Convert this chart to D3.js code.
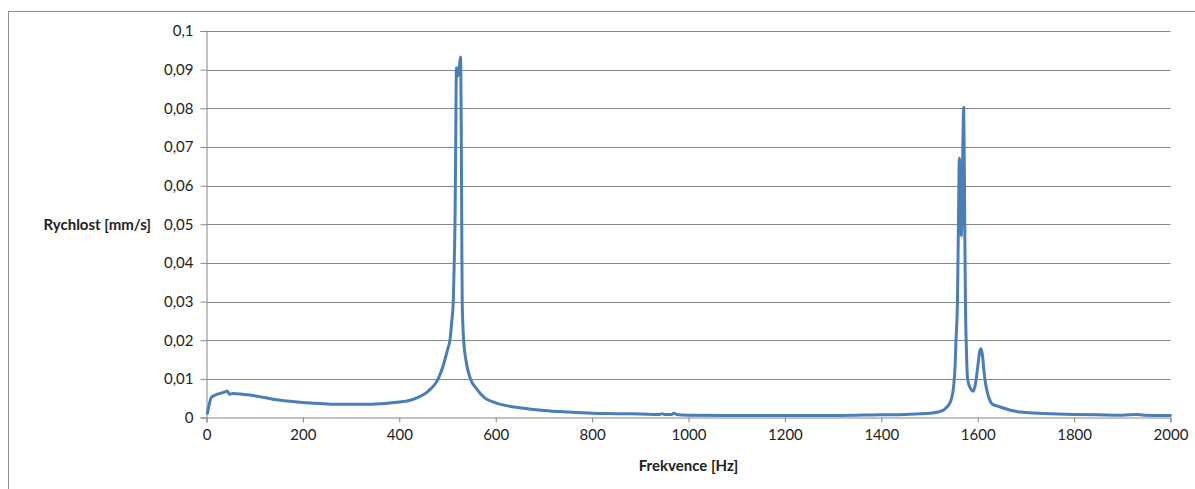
<!DOCTYPE html>
<html>
<head>
<meta charset="utf-8">
<script src="https://cdn.jsdelivr.net/npm/d3@7"></script>
<style>
html,body{margin:0;padding:0;background:#fff;}
svg{display:block;}
text{font-family:Lato,"Open Sans",sans-serif;fill:#222;}
</style>
</head>
<body>
<svg id="chart" width="1195" height="489"></svg>
<script>
const freq = [2,5,10,15,20,30,40,43,48,55,70,90,110,130,150,175,200,225,250,275,300,325,350,375,400,420,440,455,465,475,482,490,500,505,509,512,514,515.5,517,518.5,521,524,527,528.5,529.5,530.5,533.5,538,547.5,560,578,600,625,650,700,750,800,850,900,940,945,950,965,970,975,1000,1100,1200,1300,1400,1450,1500,1520,1530,1540,1545,1550,1553,1555,1558,1560,1562,1564,1566,1568,1571,1572.5,1574.5,1576.5,1579,1585,1591,1595,1600,1604,1607,1610,1613,1616,1620,1625,1630,1640,1650,1670,1700,1750,1800,1850,1900,1930,1945,2000];
const velocity = [0.0011,0.0030,0.0052,0.0056,0.0059,0.0063,0.0067,0.0068,0.0060,0.0062,0.0061,0.0058,0.0054,0.0049,0.0045,0.0042,0.0039,0.0037,0.0035,0.0034,0.0034,0.0034,0.0035,0.0037,0.0040,0.0044,0.0053,0.0063,0.0074,0.0088,0.0104,0.0130,0.0175,0.0200,0.0250,0.0300,0.0400,0.0500,0.0700,0.0905,0.0883,0.0900,0.0933,0.0750,0.0500,0.0300,0.0200,0.0150,0.0100,0.0075,0.0050,0.0038,0.0030,0.0025,0.0018,0.0014,0.0011,0.0010,0.0009,0.0008,0.0010,0.0008,0.0008,0.0011,0.0008,0.0006,0.0005,0.0005,0.0005,0.0007,0.0008,0.0011,0.0015,0.0020,0.0033,0.0046,0.0080,0.0130,0.0200,0.0300,0.0500,0.0671,0.0550,0.0470,0.0600,0.0802,0.0600,0.0300,0.0180,0.0100,0.0075,0.0068,0.0085,0.0130,0.0170,0.0178,0.0160,0.0120,0.0090,0.0065,0.0045,0.0035,0.0030,0.0026,0.0018,0.0013,0.0010,0.0008,0.0007,0.0006,0.0008,0.0006,0.0005];
const xTicks = [0,200,400,600,800,1000,1200,1400,1600,1800,2000];
const xTickLabels = ["0","200","400","600","800","1000","1200","1400","1600","1800","2000"];
const yTicks = [0,0.01,0.02,0.03,0.04,0.05,0.06,0.07,0.08,0.09,0.1];
const yTickLabels = ["0","0,01","0,02","0,03","0,04","0,05","0,06","0,07","0,08","0,09","0,1"];
const xTitle = "Frekvence [Hz]";
const yTitle = "Rychlost [mm/s]";

const svg = d3.select("#chart");
const gridColor = "#888";
const fs = "15px";

// outer frame
svg.append("rect").attr("x",8.5).attr("y",11.5).attr("width",1200).attr("height",500)
  .attr("fill","none").attr("stroke","#8c8c8c").attr("stroke-width",1);

const x = d3.scaleLinear().domain([0,2000]).range([206.5,1170.5]);
const y = d3.scaleLinear().domain([0,0.1]).range([417.5,31]);

// gridlines
svg.append("g").selectAll("line").data(yTicks.slice(1)).join("line")
  .attr("x1",x(0)).attr("x2",x(2000))
  .attr("y1",d=>Math.round(y(d))+0.5).attr("y2",d=>Math.round(y(d))+0.5)
  .attr("stroke",gridColor).attr("stroke-width",1);

// y axis
const yAxis = d3.axisLeft(y).tickValues(yTicks).tickSize(6).tickPadding(7)
  .tickFormat((d,i)=>yTickLabels[i]);
const gy = svg.append("g").attr("transform",`translate(${x(0)},0)`).call(yAxis);
gy.select(".domain").attr("stroke",gridColor);
gy.selectAll(".tick line").attr("stroke",gridColor);
gy.selectAll(".tick text").style("font-size",fs).attr("fill","#222");

// x axis
const xAxis = d3.axisBottom(x).tickValues(xTicks).tickSize(5).tickPadding(7)
  .tickFormat((d,i)=>xTickLabels[i]);
const gx = svg.append("g").attr("transform",`translate(0,${y(0)})`).call(xAxis);
gx.select(".domain").attr("stroke",gridColor);
gx.selectAll(".tick line").attr("stroke",gridColor);
gx.selectAll(".tick text").style("font-size",fs).attr("fill","#222");

// titles
svg.append("text").attr("x",151).attr("y",y(0.05)).attr("dy","0.35em")
  .attr("text-anchor","end").style("font-size",fs).style("font-weight","bold").text(yTitle);
svg.append("text").attr("x",(x(0)+x(2000))/2).attr("y",471)
  .attr("text-anchor","middle").style("font-size",fs).style("font-weight","bold").text(xTitle);

// line
const data = freq.map((f,i)=>({f, v: velocity[i]}));
const line = d3.line().x(d=>x(d.f)).y(d=>y(d.v)).curve(d3.curveMonotoneX);
svg.append("path").datum(data).attr("d",line)
  .attr("fill","none").attr("stroke","#4a7ebb").attr("stroke-width",3)
  .attr("stroke-linejoin","round").attr("stroke-linecap","round");
</script>
</body>
</html>
